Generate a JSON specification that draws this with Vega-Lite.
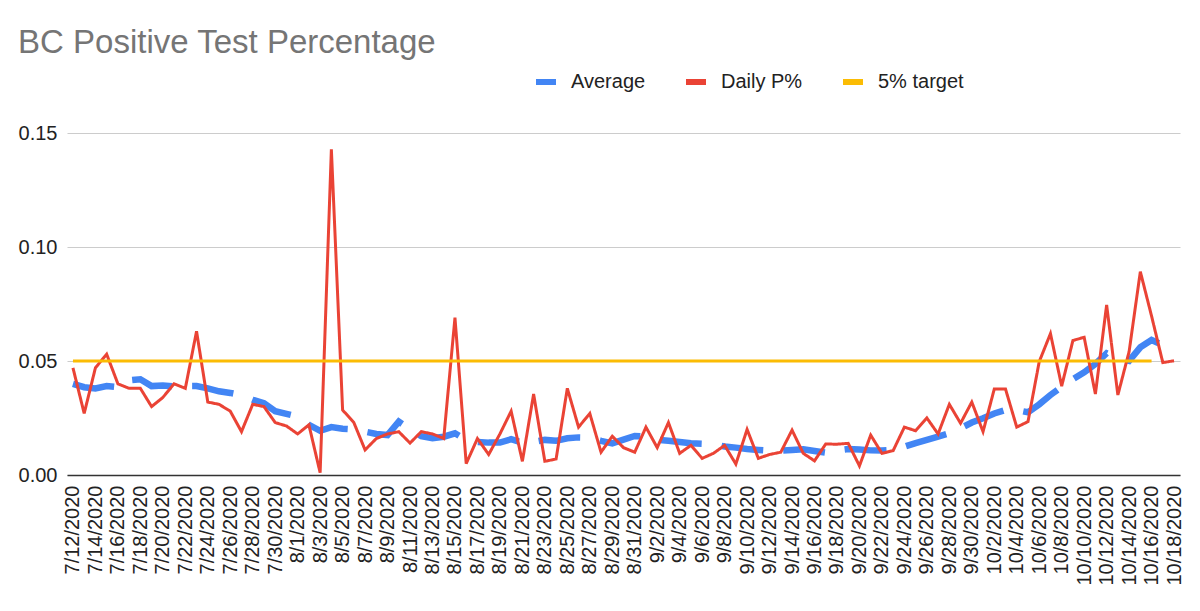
{
  "$schema": "https://vega.github.io/schema/vega-lite/v6.json",
  "width": 1113,
  "height": 342,
  "autosize": "none",
  "padding": {"left": 67, "top": 133, "right": 20, "bottom": 136},
  "background": "#ffffff",
  "config": {
    "view": {"stroke": null},
    "font": "Liberation Sans",
    "legend": {
      "orient": "none",
      "legendX": 466,
      "legendY": -64,
      "direction": "horizontal",
      "symbolType": "stroke",
      "symbolSize": 400,
      "symbolStrokeWidth": 6,
      "labelFontSize": 20,
      "labelColor": "#222222",
      "labelFont": "Liberation Sans",
      "columnPadding": 28,
      "labelOffset": 12
    }
  },
  "title": {
    "text": "BC Positive Test Percentage",
    "anchor": "start",
    "frame": "bounds",
    "font": "Liberation Sans",
    "fontSize": 33,
    "fontWeight": "normal",
    "color": "#757575",
    "baseline": "alphabetic",
    "offset": 17,
    "dy": 34
  },
  "data": {
    "values": [
      {"date": "7/12/2020", "avg": 0.040, "daily": 0.047, "target": 0.05},
      {"date": "7/13/2020", "avg": 0.0385, "daily": 0.027, "target": 0.05},
      {"date": "7/14/2020", "avg": 0.038, "daily": 0.047, "target": 0.05},
      {"date": "7/15/2020", "avg": 0.039, "daily": 0.053, "target": 0.05},
      {"date": "7/16/2020", "avg": 0.0385, "daily": 0.040, "target": 0.05},
      {"date": "7/17/2020", "avg": 0.0415, "daily": 0.038, "target": 0.05},
      {"date": "7/18/2020", "avg": 0.042, "daily": 0.038, "target": 0.05},
      {"date": "7/19/2020", "avg": 0.039, "daily": 0.030, "target": 0.05},
      {"date": "7/20/2020", "avg": 0.0393, "daily": 0.034, "target": 0.05},
      {"date": "7/21/2020", "avg": 0.0388, "daily": 0.040, "target": 0.05},
      {"date": "7/22/2020", "avg": 0.039, "daily": 0.038, "target": 0.05},
      {"date": "7/23/2020", "avg": 0.039, "daily": 0.063, "target": 0.05},
      {"date": "7/24/2020", "avg": 0.038, "daily": 0.032, "target": 0.05},
      {"date": "7/25/2020", "avg": 0.0367, "daily": 0.031, "target": 0.05},
      {"date": "7/26/2020", "avg": 0.036, "daily": 0.028, "target": 0.05},
      {"date": "7/27/2020", "avg": 0.035, "daily": 0.019, "target": 0.05},
      {"date": "7/28/2020", "avg": 0.033, "daily": 0.031, "target": 0.05},
      {"date": "7/29/2020", "avg": 0.0315, "daily": 0.030, "target": 0.05},
      {"date": "7/30/2020", "avg": 0.028, "daily": 0.023, "target": 0.05},
      {"date": "7/31/2020", "avg": 0.0268, "daily": 0.0215, "target": 0.05},
      {"date": "8/1/2020", "avg": 0.0256, "daily": 0.018, "target": 0.05},
      {"date": "8/2/2020", "avg": 0.022, "daily": 0.022, "target": 0.05},
      {"date": "8/3/2020", "avg": 0.0194, "daily": 0.001, "target": 0.05},
      {"date": "8/4/2020", "avg": 0.021, "daily": 0.1428, "target": 0.05},
      {"date": "8/5/2020", "avg": 0.0203, "daily": 0.0285, "target": 0.05},
      {"date": "8/6/2020", "avg": 0.020, "daily": 0.023, "target": 0.05},
      {"date": "8/7/2020", "avg": 0.019, "daily": 0.011, "target": 0.05},
      {"date": "8/8/2020", "avg": 0.018, "daily": 0.016, "target": 0.05},
      {"date": "8/9/2020", "avg": 0.0175, "daily": 0.018, "target": 0.05},
      {"date": "8/10/2020", "avg": 0.0234, "daily": 0.019, "target": 0.05},
      {"date": "8/11/2020", "avg": 0.020, "daily": 0.014, "target": 0.05},
      {"date": "8/12/2020", "avg": 0.017, "daily": 0.019, "target": 0.05},
      {"date": "8/13/2020", "avg": 0.0161, "daily": 0.018, "target": 0.05},
      {"date": "8/14/2020", "avg": 0.0168, "daily": 0.016, "target": 0.05},
      {"date": "8/15/2020", "avg": 0.0183, "daily": 0.069, "target": 0.05},
      {"date": "8/16/2020", "avg": 0.0154, "daily": 0.005, "target": 0.05},
      {"date": "8/17/2020", "avg": 0.0145, "daily": 0.016, "target": 0.05},
      {"date": "8/18/2020", "avg": 0.0142, "daily": 0.009, "target": 0.05},
      {"date": "8/19/2020", "avg": 0.0142, "daily": 0.018, "target": 0.05},
      {"date": "8/20/2020", "avg": 0.0157, "daily": 0.028, "target": 0.05},
      {"date": "8/21/2020", "avg": 0.0142, "daily": 0.006, "target": 0.05},
      {"date": "8/22/2020", "avg": 0.0145, "daily": 0.0355, "target": 0.05},
      {"date": "8/23/2020", "avg": 0.0154, "daily": 0.006, "target": 0.05},
      {"date": "8/24/2020", "avg": 0.015, "daily": 0.007, "target": 0.05},
      {"date": "8/25/2020", "avg": 0.0161, "daily": 0.038, "target": 0.05},
      {"date": "8/26/2020", "avg": 0.0165, "daily": 0.021, "target": 0.05},
      {"date": "8/27/2020", "avg": 0.0164, "daily": 0.027, "target": 0.05},
      {"date": "8/28/2020", "avg": 0.015, "daily": 0.010, "target": 0.05},
      {"date": "8/29/2020", "avg": 0.0139, "daily": 0.017, "target": 0.05},
      {"date": "8/30/2020", "avg": 0.0155, "daily": 0.012, "target": 0.05},
      {"date": "8/31/2020", "avg": 0.0171, "daily": 0.010, "target": 0.05},
      {"date": "9/1/2020", "avg": 0.0168, "daily": 0.021, "target": 0.05},
      {"date": "9/2/2020", "avg": 0.0155, "daily": 0.012, "target": 0.05},
      {"date": "9/3/2020", "avg": 0.015, "daily": 0.023, "target": 0.05},
      {"date": "9/4/2020", "avg": 0.0145, "daily": 0.0095, "target": 0.05},
      {"date": "9/5/2020", "avg": 0.0139, "daily": 0.013, "target": 0.05},
      {"date": "9/6/2020", "avg": 0.0137, "daily": 0.0073, "target": 0.05},
      {"date": "9/7/2020", "avg": 0.0136, "daily": 0.0095, "target": 0.05},
      {"date": "9/8/2020", "avg": 0.0125, "daily": 0.013, "target": 0.05},
      {"date": "9/9/2020", "avg": 0.012, "daily": 0.0048, "target": 0.05},
      {"date": "9/10/2020", "avg": 0.0114, "daily": 0.020, "target": 0.05},
      {"date": "9/11/2020", "avg": 0.011, "daily": 0.0073, "target": 0.05},
      {"date": "9/12/2020", "avg": 0.0107, "daily": 0.009, "target": 0.05},
      {"date": "9/13/2020", "avg": 0.0107, "daily": 0.010, "target": 0.05},
      {"date": "9/14/2020", "avg": 0.011, "daily": 0.0197, "target": 0.05},
      {"date": "9/15/2020", "avg": 0.0113, "daily": 0.0095, "target": 0.05},
      {"date": "9/16/2020", "avg": 0.0105, "daily": 0.0062, "target": 0.05},
      {"date": "9/17/2020", "avg": 0.0098, "daily": 0.0136, "target": 0.05},
      {"date": "9/18/2020", "avg": 0.0108, "daily": 0.0135, "target": 0.05},
      {"date": "9/19/2020", "avg": 0.0114, "daily": 0.0139, "target": 0.05},
      {"date": "9/20/2020", "avg": 0.0112, "daily": 0.004, "target": 0.05},
      {"date": "9/21/2020", "avg": 0.0108, "daily": 0.0175, "target": 0.05},
      {"date": "9/22/2020", "avg": 0.0107, "daily": 0.0095, "target": 0.05},
      {"date": "9/23/2020", "avg": 0.011, "daily": 0.0107, "target": 0.05},
      {"date": "9/24/2020", "avg": 0.0124, "daily": 0.021, "target": 0.05},
      {"date": "9/25/2020", "avg": 0.014, "daily": 0.0194, "target": 0.05},
      {"date": "9/26/2020", "avg": 0.0154, "daily": 0.025, "target": 0.05},
      {"date": "9/27/2020", "avg": 0.0168, "daily": 0.018, "target": 0.05},
      {"date": "9/28/2020", "avg": 0.0183, "daily": 0.031, "target": 0.05},
      {"date": "9/29/2020", "avg": 0.0205, "daily": 0.0227, "target": 0.05},
      {"date": "9/30/2020", "avg": 0.023, "daily": 0.032, "target": 0.05},
      {"date": "10/1/2020", "avg": 0.0249, "daily": 0.019, "target": 0.05},
      {"date": "10/2/2020", "avg": 0.027, "daily": 0.0377, "target": 0.05},
      {"date": "10/3/2020", "avg": 0.0285, "daily": 0.0377, "target": 0.05},
      {"date": "10/4/2020", "avg": 0.0285, "daily": 0.021, "target": 0.05},
      {"date": "10/5/2020", "avg": 0.0275, "daily": 0.0234, "target": 0.05},
      {"date": "10/6/2020", "avg": 0.031, "daily": 0.0497, "target": 0.05},
      {"date": "10/7/2020", "avg": 0.0351, "daily": 0.062, "target": 0.05},
      {"date": "10/8/2020", "avg": 0.0387, "daily": 0.039, "target": 0.05},
      {"date": "10/9/2020", "avg": 0.042, "daily": 0.059, "target": 0.05},
      {"date": "10/10/2020", "avg": 0.045, "daily": 0.0604, "target": 0.05},
      {"date": "10/11/2020", "avg": 0.0487, "daily": 0.0355, "target": 0.05},
      {"date": "10/12/2020", "avg": 0.0534, "daily": 0.0746, "target": 0.05},
      {"date": "10/13/2020", "avg": 0.0512, "daily": 0.0351, "target": 0.05},
      {"date": "10/14/2020", "avg": 0.0501, "daily": 0.0541, "target": 0.05},
      {"date": "10/15/2020", "avg": 0.056, "daily": 0.0892, "target": 0.05},
      {"date": "10/16/2020", "avg": 0.0592, "daily": 0.0697, "target": 0.05},
      {"date": "10/17/2020", "avg": 0.057, "daily": 0.0493, "target": null},
      {"date": "10/18/2020", "avg": 0.0585, "daily": 0.0501, "target": null}
    ]
  },
  "encoding": {
    "x": {
      "field": "date",
      "type": "ordinal",
      "sort": null,
      "scale": {"type": "point", "padding": 0.53},
      "axis": {
        "title": null,
        "values": ["7/12/2020","7/14/2020","7/16/2020","7/18/2020","7/20/2020","7/22/2020","7/24/2020","7/26/2020","7/28/2020","7/30/2020","8/1/2020","8/3/2020","8/5/2020","8/7/2020","8/9/2020","8/11/2020","8/13/2020","8/15/2020","8/17/2020","8/19/2020","8/21/2020","8/23/2020","8/25/2020","8/27/2020","8/29/2020","8/31/2020","9/2/2020","9/4/2020","9/6/2020","9/8/2020","9/10/2020","9/12/2020","9/14/2020","9/16/2020","9/18/2020","9/20/2020","9/22/2020","9/24/2020","9/26/2020","9/28/2020","9/30/2020","10/2/2020","10/4/2020","10/6/2020","10/8/2020","10/10/2020","10/12/2020","10/14/2020","10/16/2020","10/18/2020"],
        "labelAngle": -90,
        "labelAlign": "right",
        "labelBaseline": "middle",
        "labelFontSize": 20,
        "labelFont": "Liberation Sans",
        "labelColor": "#222222",
        "labelPadding": 10,
        "labelOverlap": false,
        "ticks": false,
        "domainColor": "#333333",
        "domainWidth": 1.5,
        "grid": false
      }
    }
  },
  "layer": [
    {
      "mark": {"type": "line", "strokeWidth": 6.5, "strokeCap": "butt"},
      "encoding": {
        "y": {
          "field": "avg",
          "type": "quantitative",
          "scale": {"domain": [0, 0.15], "nice": false, "zero": true},
          "axis": {
            "title": null,
            "values": [0, 0.05, 0.1, 0.15],
            "format": ".2f",
            "labelFontSize": 20,
            "labelFont": "Liberation Sans",
            "labelColor": "#222222",
            "labelPadding": 10,
            "domain": false,
            "ticks": false,
            "gridColor": "#cccccc",
            "gridWidth": 1.2
          }
        },
        "color": {
          "datum": "Average",
          "scale": {"domain": ["Average", "Daily P%", "5% target"], "range": ["#4285F4", "#EA4335", "#FBBC04"]},
          "legend": {"title": null}
        },
        "strokeDash": {
          "datum": "Average",
          "scale": {"domain": ["Average", "Daily P%", "5% target"], "range": [[42, 20], [1, 0], [1, 0]]},
          "legend": {"title": null}
        }
      }
    },
    {
      "mark": {"type": "line", "strokeWidth": 3},
      "encoding": {
        "y": {"field": "daily", "type": "quantitative", "title": null},
        "color": {"datum": "Daily P%"},
        "strokeDash": {"datum": "Daily P%"}
      }
    },
    {
      "mark": {"type": "line", "strokeWidth": 3},
      "encoding": {
        "y": {"field": "target", "type": "quantitative", "title": null},
        "color": {"datum": "5% target"},
        "strokeDash": {"datum": "5% target"}
      }
    }
  ]
}
